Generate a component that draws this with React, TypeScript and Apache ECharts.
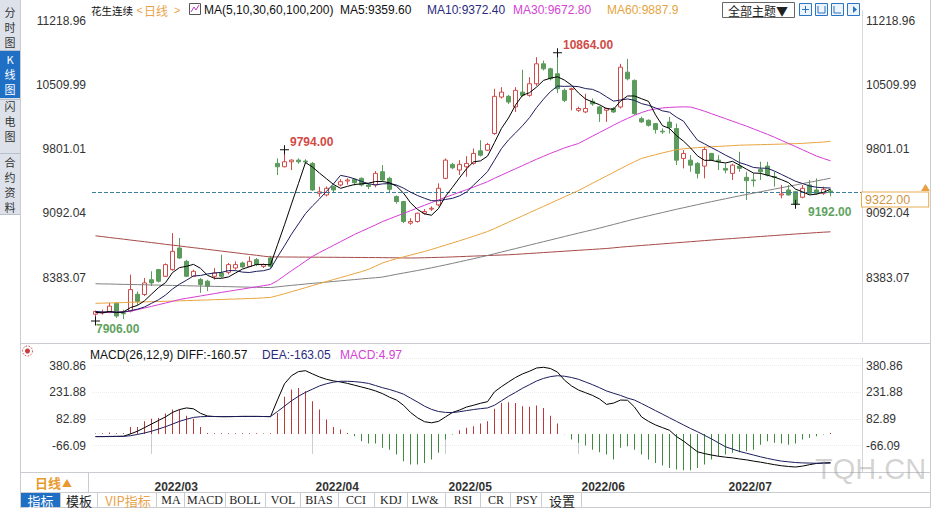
import { useEffect, useRef } from 'react';
import * as echarts from 'echarts';

// ---------- categories (trading days) ----------
const febDays = [17, 18, 21, 22, 23, 24, 25, 28];
const marDays = [1, 2, 3, 4, 7, 8, 9, 10, 11, 14, 15, 16, 17, 18, 21, 22, 23, 24, 25, 28, 29, 30, 31];
const aprDays = [1, 6, 7, 8, 11, 12, 13, 14, 15, 18, 19, 20, 21, 22, 25, 26, 27, 28, 29];
const mayDays = [5, 6, 9, 10, 11, 12, 13, 16, 17, 18, 19, 20, 23, 24, 25, 26, 27, 30, 31];
const junDays = [1, 2, 6, 7, 8, 9, 10, 13, 14, 15, 16, 17, 20, 21, 22, 23, 24, 27, 28, 29, 30];
const julDays = [1, 4, 5, 6, 7, 8, 11, 12, 13, 14, 15, 18, 19, 20, 21, 22];
const tradingMonths: [number, number[]][] = [[2, febDays], [3, marDays], [4, aprDays], [5, mayDays], [6, junDays], [7, julDays]];
const dates: string[] = [];
tradingMonths.forEach(([m, days]) => days.forEach((d) => dates.push(`2022/${String(m).padStart(2, '0')}/${String(d).padStart(2, '0')}`)));
const rightPadSlots = ['pad1', 'pad2', 'pad3', 'pad4'];

// ---------- OHLC ----------
const opens = [
  7980, 7995, 8003, 8100, 7990, 8014, 8200, 8197, 8360, 8472,
  8398, 8472, 8710, 8563, 8398, 8362, 8344, 8398, 8435, 8442,
  8490, 8545, 8508, 8582, 8508, 8600, 9644, 9607, 9662, 9680,
  9670, 9644, 9314, 9296, 9387, 9406, 9450, 9468, 9479, 9406,
  9406, 9552, 9479, 9278, 9223, 8985, 9003, 9094, 9140, 9186,
  9479, 9633, 9571, 9607, 9644, 9783, 9790, 9974, 10376, 10384,
  10267, 10431, 10395, 10523, 10743, 10688, 10633, 10450, 10460, 10230,
  10212, 10330, 10267, 10230, 10250, 10267, 10651, 10560, 10138, 10120,
  10083, 10000, 10100, 10028, 9699, 9680, 9644, 9614, 9754, 9680,
  9589, 9534, 9614, 9490, 9461, 9578, 9614, 9497, 9296, 9351,
  9332, 9270, 9406, 9351, 9314, 9340,
];
const closes = [
  8010, 8000, 8069, 7960, 7985, 8252, 8120, 8325, 8325, 8344,
  8527, 8673, 8600, 8398, 8453, 8307, 8289, 8435, 8398, 8527,
  8527, 8501, 8563, 8527, 8527, 8508, 9607, 9662, 9680, 9662,
  9660, 9351, 9330, 9369, 9351, 9442, 9461, 9431, 9406, 9390,
  9534, 9461, 9358, 9223, 9003, 9003, 9094, 9113, 9149, 9369,
  9680, 9596, 9633, 9644, 9754, 9735, 9853, 10384, 10431, 10321,
  10450, 10395, 10523, 10743, 10688, 10578, 10468, 10340, 10468, 10250,
  10250, 10300, 10193, 10250, 10212, 10706, 10578, 10193, 10102, 10065,
  10017, 9992, 10040, 9680, 9754, 9625, 9534, 9798, 9680, 9662,
  9570, 9625, 9589, 9453, 9453, 9552, 9516, 9490, 9307, 9296,
  9192, 9369, 9314, 9314, 9358, 9322,
];
const lows = [
  7906, 7975, 7990, 7940, 7925, 8000, 8080, 8180, 8290, 8330,
  8390, 8460, 8590, 8390, 8390, 8215, 8234, 8362, 8380, 8420,
  8470, 8490, 8500, 8510, 8490, 8490, 9516, 9600, 9570, 9640,
  9640, 9340, 9277, 9280, 9320, 9390, 9410, 9400, 9390, 9360,
  9380, 9442, 9314, 9200, 8985, 8966, 8990, 9080, 9120, 9170,
  9470, 9580, 9516, 9497, 9630, 9720, 9780, 9960, 10360, 10300,
  10212, 10380, 10380, 10500, 10670, 10560, 10420, 10320, 10230, 10212,
  10200, 10280, 10102, 10102, 10200, 10250, 10560, 10180, 10090, 10050,
  9974, 9970, 9974, 9626, 9589, 9552, 9479, 9479, 9670, 9570,
  9534, 9461, 9552, 9241, 9387, 9461, 9500, 9387, 9259, 9290,
  9192, 9259, 9300, 9300, 9296, 9280,
];
const highs = [
  8020, 8030, 8105, 8110, 8030, 8417, 8230, 8380, 8453, 8480,
  8540, 8875, 8820, 8580, 8470, 8380, 8360, 8490, 8636, 8545,
  8563, 8560, 8618, 8600, 8540, 8625, 9699, 9794, 9690, 9700,
  9690, 9660, 9387, 9390, 9400, 9470, 9480, 9480, 9490, 9420,
  9560, 9626, 9497, 9290, 9230, 9039, 9100, 9140, 9170, 9424,
  9699, 9650, 9680, 9724, 9809, 9900, 9870, 10468, 10486, 10400,
  10486, 10677, 10596, 10816, 10779, 10700, 10864, 10470, 10480, 10270,
  10413, 10360, 10280, 10260, 10265, 10743, 10798, 10570, 10160, 10130,
  10090, 10030, 10157, 10083, 9790, 9735, 9660, 9827, 9760, 9735,
  9644, 9640, 9772, 9552, 9534, 9662, 9662, 9552, 9406, 9406,
  9340, 9406, 9461, 9479, 9387, 9360,
];
const markedHighs = [27, 66];
const markedLows = [0, 100];

// ---------- moving averages ----------
const ma5 = [
  8000, 7995, 8010, 8000, 8005, 8053, 8077, 8128, 8201, 8273,
  8328, 8439, 8494, 8508, 8530, 8486, 8409, 8376, 8376, 8391,
  8435, 8478, 8503, 8529, 8529, 8525, 8746, 8966, 9197, 9424,
  9654, 9603, 9537, 9474, 9412, 9369, 9391, 9411, 9418, 9426,
  9444, 9444, 9430, 9393, 9316, 9210, 9136, 9087, 9072, 9146,
  9281, 9381, 9485, 9584, 9661, 9672, 9724, 9874, 10031, 10145,
  10288, 10396, 10424, 10486, 10560, 10585, 10600, 10563, 10508, 10421,
  10355, 10322, 10292, 10249, 10241, 10332, 10388, 10388, 10358, 10329,
  10180, 10060, 10030, 9950, 9890, 9815, 9727, 9678, 9678, 9660,
  9649, 9667, 9625, 9580, 9538, 9534, 9513, 9493, 9464, 9432,
  9360, 9331, 9296, 9305, 9325, 9359.6,
];
const ma10 = [
  8010, 8005, 8005, 8000, 8000, 8020, 8035, 8060, 8100, 8139,
  8191, 8258, 8311, 8355, 8402, 8407, 8424, 8435, 8442, 8461,
  8461, 8444, 8440, 8453, 8460, 8480, 8612, 8735, 8863, 8977,
  9090, 9175, 9252, 9336, 9418, 9512, 9497, 9474, 9446, 9419,
  9407, 9418, 9421, 9406, 9371, 9327, 9290, 9259, 9233, 9231,
  9246, 9259, 9286, 9328, 9404, 9477, 9553, 9680, 9808, 9903,
  9980, 10060, 10149, 10259, 10353, 10437, 10498, 10494, 10497, 10491,
  10470, 10461, 10428, 10379, 10331, 10344, 10355, 10340, 10304, 10285,
  10256, 10224, 10209, 10154, 10110, 10002, 9900, 9860, 9818, 9778,
  9735, 9697, 9652, 9629, 9599, 9592, 9590, 9559, 9522, 9485,
  9447, 9422, 9395, 9381, 9375, 9372.4,
];
const ma30 = [
  7995, 7998, 8000, 8003, 8006, 8013, 8030, 8048, 8066, 8085,
  8103, 8122, 8142, 8155, 8168, 8181, 8194, 8207, 8220, 8233,
  8245, 8257, 8270, 8282, 8295, 8307, 8350, 8405, 8460, 8512,
  8565, 8618, 8660, 8700, 8740, 8780, 8820, 8860, 8895, 8930,
  8965, 9002, 9032, 9062, 9092, 9122, 9152, 9182, 9212, 9241,
  9270, 9298, 9326, 9354, 9382, 9412, 9442, 9480, 9515, 9550,
  9585, 9620, 9655, 9690, 9722, 9755, 9785, 9815, 9840, 9864,
  9905, 9945, 9985, 10025, 10065, 10105, 10140, 10175, 10205, 10230,
  10245, 10256, 10262, 10266, 10268, 10266, 10245, 10220, 10192, 10165,
  10138, 10110, 10083, 10055, 10025, 9995, 9965, 9932, 9898, 9864,
  9830, 9795, 9760, 9725, 9698, 9672.8,
];
const ma60 = [
  8100, 8102, 8104, 8106, 8108, 8111, 8113, 8115, 8118, 8120,
  8122, 8125, 8127, 8130, 8132, 8135, 8137, 8140, 8142, 8145,
  8147, 8150, 8153, 8156, 8160, 8165, 8185, 8205, 8228, 8250,
  8273, 8296, 8318, 8340, 8362, 8384, 8406, 8428, 8450, 8475,
  8510, 8545, 8570, 8592, 8612, 8632, 8652, 8672, 8695, 8718,
  8742, 8766, 8790, 8815, 8840, 8866, 8892, 8925, 8960, 8995,
  9030, 9065, 9100, 9135, 9170, 9205, 9240, 9275, 9310, 9345,
  9385, 9425, 9465, 9505, 9545, 9585, 9625, 9662, 9699, 9720,
  9740, 9760, 9778, 9795, 9805, 9812, 9818, 9823, 9828, 9832,
  9836, 9840, 9845, 9847, 9849, 9851, 9853, 9855, 9857, 9860,
  9862, 9865, 9870, 9875, 9880, 9887.9,
];
const ma100 = [
  8316, 8314, 8313, 8311, 8309, 8308, 8306, 8304, 8302, 8301,
  8299, 8297, 8296, 8294, 8292, 8290, 8289, 8287, 8285, 8284,
  8282, 8280, 8278, 8277, 8275, 8274, 8282, 8290, 8298, 8305,
  8313, 8320, 8327, 8334, 8341, 8348, 8355, 8362, 8369, 8376,
  8382, 8390, 8405, 8420, 8434, 8448, 8462, 8477, 8492, 8508,
  8524, 8541, 8558, 8575, 8592, 8610, 8628, 8647, 8666, 8685,
  8704, 8723, 8742, 8761, 8780, 8799, 8818, 8837, 8856, 8875,
  8893, 8911, 8930, 8950, 8970, 8990, 9010, 9030, 9048, 9066,
  9084, 9102, 9120, 9138, 9155, 9172, 9189, 9206, 9222, 9238,
  9254, 9270, 9286, 9301, 9316, 9331, 9346, 9361, 9376, 9391,
  9406, 9421, 9436, 9451, 9466, 9480,
];
const ma200 = [
  8845, 8836, 8826, 8817, 8808, 8798, 8789, 8780, 8770, 8761,
  8751, 8742, 8733, 8723, 8714, 8705, 8695, 8686, 8676, 8667,
  8658, 8648, 8639, 8630, 8620, 8612, 8612, 8611, 8611, 8610,
  8610, 8609, 8609, 8608, 8608, 8607, 8607, 8606, 8606, 8605,
  8605, 8604, 8603, 8602, 8601, 8600, 8601, 8603, 8605, 8607,
  8609, 8612, 8615, 8618, 8621, 8624, 8627, 8630, 8633, 8636,
  8640, 8645, 8650, 8655, 8660, 8665, 8670, 8675, 8680, 8685,
  8690, 8695, 8700, 8705, 8712, 8720, 8726, 8732, 8738, 8744,
  8750, 8756, 8762, 8768, 8774, 8780, 8786, 8792, 8798, 8804,
  8810, 8815, 8821, 8826, 8832, 8837, 8843, 8848, 8854, 8859,
  8865, 8870, 8875, 8880, 8885, 8889,
];

// ---------- MACD ----------
const diff = [
  -15, -15, -14, -14, -13, 0, 15, 35, 55, 75,
  95, 120, 136, 145, 140, 115, 100, 97, 96, 96,
  97, 98, 98, 98, 97, 96, 190, 280, 325, 348,
  353, 335, 318, 305, 296, 290, 282, 272, 262, 252,
  240, 225, 205, 189, 160, 120, 90, 68, 62, 70,
  95, 120, 133, 150, 160, 171, 180, 235, 264, 290,
  315, 335, 350, 368, 372, 365, 345, 300, 268, 245,
  230, 215, 195, 165, 172, 189, 188, 150, 95, 70,
  50, 35, 20, -15, -40, -70, -100, -110, -118, -125,
  -130, -134, -140, -145, -152, -158, -165, -172, -178, -182,
  -185, -180, -172, -165, -162, -160.57,
];
const dea = [
  -15, -15, -15, -14, -14, -10, -3, 5, 15, 27,
  40, 55, 70, 82, 92, 96, 97, 97, 97, 97,
  97, 97, 97, 97, 97, 97, 125, 155, 185, 210,
  232, 250, 268, 280, 289, 294, 294, 292, 288, 282,
  270, 258, 248, 236, 222, 200, 178, 155, 137, 125,
  120, 119, 124, 130, 136, 141, 145, 160, 185, 210,
  232, 255, 275, 295, 310, 320, 325, 322, 315, 305,
  290, 275, 258, 240, 227, 215, 200, 189, 170, 150,
  130, 110, 90, 70, 50, 30, 12, -8, -28, -50,
  -72, -85, -98, -108, -118, -128, -137, -145, -152, -156,
  -160, -162, -163, -164, -164, -163.05,
];
const macd = [
  2, 4, 8, 4, 3, 39, 39, 71, 84, 89,
  114, 136, 136, 102, 84, 39, 5, 4, 4, 3,
  4, 3, 3, 3, 2, 3, 117, 207, 248, 257,
  238, 182, 136, 80, 39, 24, 5, -13, -41, -54,
  -54, -78, -88, -115, -153, -171, -171, -162, -143, -106,
  -32, -4, 20, 34, 43, 58, 71, 140, 173, 177,
  173, 155, 151, 158, 145, 102, 58, -2, -32, -50,
  -65, -88, -102, -115, -143, -78, -69, -88, -115, -143,
  -162, -177, -190, -199, -203, -203, -190, -171, -143, -125,
  -115, -106, -102, -97, -88, -60, -41, -50, -54, -60,
  -54, -32, -22, -13, -4, 4.97,
];

// ---------- axis tick labels ----------
const priceTicks = ['11218.96', '10509.99', '9801.01', '9092.04', '8383.07'];
const macdTicks = ['380.86', '231.88', '82.89', '-66.09'];
const tabItems = ['模板', 'VIP指标', 'MA', 'MACD', 'BOLL', 'VOL', 'BIAS', 'CCI', 'KDJ', 'LW&', 'RSI', 'CR', 'PSY', '设置'];
const sideTabs = [
  { chars: ['分', '时', '图'], ys: [12, 27, 42], active: false },
  { chars: ['K', '线', '图'], ys: [59, 74, 89], active: true },
  { chars: ['闪', '电', '图'], ys: [106, 121, 136], active: false },
  { chars: ['合', '约', '资', '料'], ys: [162, 177, 192, 207], active: false },
];

const NUM = '"Liberation Sans", Arial, sans-serif';
const CJK = '"Noto Sans CJK SC", "Liberation Sans", sans-serif';
const SERIF = '"Liberation Serif", "Noto Sans CJK SC", serif';

const pickLabel = (list: string[]) => (v: number) => {
  const hit = list.find((t) => Math.abs(parseFloat(t) - v) < 0.5);
  return hit === undefined ? '' : hit;
};

function txt(text: string, x: number, y: number, fill: string, size = 12, family = NUM, align = 'left', weight: any = 'normal', extra: any = {}) {
  return {
    type: 'text', silent: true, z: 100,
    style: { text, x, y, fill, fontSize: size, fontFamily: family, fontWeight: weight, align, textAlign: align, verticalAlign: 'middle', textVerticalAlign: 'middle', ...extra },
  };
}
function hline(x1: number, x2: number, y: number, stroke = '#c9ccd1') {
  return { type: 'line', silent: true, z: 90, shape: { x1, y1: y, x2, y2: y }, style: { stroke, lineWidth: 1 } };
}
function vline(x: number, y1: number, y2: number, stroke = '#c9ccd1') {
  return { type: 'line', silent: true, z: 90, shape: { x1: x, y1, x2: x, y2 }, style: { stroke, lineWidth: 1 } };
}

export default function App() {
  const ref = useRef<HTMLDivElement>(null);

  useEffect(() => {
    if (!ref.current) return;
    const chart = echarts.init(ref.current, undefined, { renderer: 'svg' });
    const n = dates.length;
    const last = n - 1;
    const cats = dates.concat(rightPadSlots);
    const monthStarts = new Set<number>();
    for (let i = 1; i < n; i++) if (dates[i].slice(5, 7) !== dates[i - 1].slice(5, 7)) monthStarts.add(i);
    const candleData = dates.map((_, i) => [opens[i], closes[i], lows[i], highs[i]]);

    const crossSymbol = 'path://M4,0h1v9h-1zM0,4h9v1h-9z';
    const markData: any[] = [];
    markedHighs.forEach((i) => markData.push({
      coord: [i, highs[i]], value: highs[i],
      label: { show: true, position: 'right', distance: 1, offset: [0, -8], formatter: highs[i].toFixed(2), color: '#d24a46', fontSize: 12, fontWeight: 'bold', fontFamily: NUM },
    }));
    markedLows.forEach((i) => markData.push({
      coord: [i, lows[i]], value: lows[i],
      label: { show: true, position: 'right', distance: 1, offset: [i === 0 ? -5 : 7, 8], formatter: lows[i].toFixed(2), color: '#5ea35e', fontSize: 12, fontWeight: 'bold', fontFamily: NUM },
    }));

    const maLine = (name: string, data: number[], color: string) => ({
      name, type: 'line', xAxisIndex: 0, yAxisIndex: 0, data, showSymbol: false, symbol: 'none',
      lineStyle: { color, width: 1 }, silent: true, z: 5,
    });

    const axisLab = { color: '#333', fontSize: 12, fontFamily: NUM };

    const graphic: any[] = [
      // left sidebar
      { type: 'rect', silent: true, z: 80, shape: { x: 0, y: 0, width: 20, height: 215 }, style: { fill: '#dde2ea' } },
      { type: 'rect', silent: true, z: 81, shape: { x: 0, y: 51, width: 20, height: 47 }, style: { fill: '#1f6fc4' } },
      hline(0, 20, 50.5, '#b8c0cc'), hline(0, 20, 99.5, '#b8c0cc'), hline(0, 20, 153.5, '#b8c0cc'), hline(0, 20, 214.5, '#b8c0cc'),
      vline(20.5, 0, 508),
      vline(930.5, 0, 508),
      // panel separators
      hline(20, 931, 343.5), hline(20, 931, 472.5), hline(20, 931, 492.5), hline(20, 931, 507.5),
      vline(88.5, 472, 492),
      // top header
      txt('花生连续', 91, 10, '#111', 10.5, CJK),
      txt('<', 136.5, 10, '#e8a34a', 11, NUM),
      txt('日线', 144, 10, '#e8a34a', 12, CJK),
      txt('>', 174, 10, '#e8a34a', 11, NUM),
      { type: 'rect', silent: true, z: 100, shape: { x: 189.5, y: 3.5, width: 11, height: 11 }, style: { fill: '#fff', stroke: '#555', lineWidth: 1 } },
      { type: 'polyline', silent: true, z: 101, shape: { points: [[191, 12], [194, 7], [196, 10], [199, 5]] }, style: { stroke: '#c03cc0', fill: 'none', lineWidth: 1 } },
      txt('MA(5,10,30,60,100,200)', 204, 10, '#111'),
      txt(`MA5:${ma5[last].toFixed(2)}`, 340, 10, '#111'),
      txt(`MA10:${ma10[last].toFixed(2)}`, 427, 10, '#2b2b7d'),
      txt(`MA30:${ma30[last].toFixed(2)}`, 513, 10, '#d444d4'),
      txt(`MA60:${ma60[last].toFixed(1)}`, 607, 10, '#e6a440'),
      { type: 'rect', silent: true, z: 100, shape: { x: 722.5, y: 2.5, width: 72, height: 15 }, style: { fill: '#fff', stroke: '#666', lineWidth: 1 } },
      txt('全部主题▼', 758, 10, '#222', 12, CJK, 'center'),
      ...[799, 815, 831, 847].map((x) => ({ type: 'rect', silent: true, z: 100, shape: { x: x + 0.5, y: 3.5, width: 12, height: 12 }, style: { fill: '#eef4fb', stroke: '#2a74c4', lineWidth: 1 } })),
      { type: 'polyline', silent: true, z: 101, shape: { points: [[805.5, 6], [805.5, 13]] }, style: { stroke: '#2a74c4', lineWidth: 1 } },
      { type: 'polyline', silent: true, z: 101, shape: { points: [[802, 9.5], [809, 9.5]] }, style: { stroke: '#2a74c4', lineWidth: 1 } },
      { type: 'polyline', silent: true, z: 101, shape: { points: [[818, 6], [818, 13], [825, 13], [825, 6]] }, style: { stroke: '#2a74c4', fill: 'none', lineWidth: 1 } },
      { type: 'polyline', silent: true, z: 101, shape: { points: [[834, 6], [834, 13], [841, 13]] }, style: { stroke: '#2a74c4', fill: 'none', lineWidth: 1 } },
      { type: 'polygon', silent: true, z: 101, shape: { points: [[853, 6], [857, 9.5], [853, 13]] }, style: { fill: '#2a74c4' } },
      // MACD header
      { type: 'circle', silent: true, z: 100, shape: { cx: 27.5, cy: 351, r: 2.5 }, style: { fill: '#c83c3c' } },
      { type: 'circle', silent: true, z: 100, shape: { cx: 27.5, cy: 351, r: 5 }, style: { fill: 'none', stroke: '#c83c3c', lineWidth: 1, lineDash: [1.5, 1.5] } },
      txt(`MACD(26,12,9) DIFF:${diff[last].toFixed(2)}`, 90, 355, '#111'),
      txt(`DEA:${dea[last].toFixed(2)}`, 262, 355, '#2b2b7d'),
      txt(`MACD:${macd[last].toFixed(2)}`, 340, 355, '#d444d4'),
      // date row left cell
      txt('日线', 35, 482, '#e89a2e', 13, CJK, 'left', 'bold'),
      txt('▲', 62, 482, '#e89a2e', 10, CJK),
      // tab row
      { type: 'rect', silent: true, z: 85, shape: { x: 21, y: 493, width: 39, height: 14 }, style: { fill: '#1f6fc4' } },
      txt('指标', 40.5, 500, '#fff', 13, CJK, 'center'),
      // watermark
      txt('TQH.CN', 815, 469, 'rgba(140,140,140,0.38)', 29, NUM),
      // latest price flag icon
      { type: 'polygon', silent: true, z: 100, shape: { points: [[921, 191], [925.5, 184], [930, 191]] }, style: { fill: '#e8a040' } },
    ];
    sideTabs.forEach((tab) => tab.chars.forEach((c, k) => graphic.push(txt(c, 10, tab.ys[k], tab.active ? '#ffffff' : '#333', 11, CJK, 'center'))));
    const tabX = [79, 128, 171, 205, 245, 283, 319, 356, 391, 425, 463, 496, 527, 562];
    const tabSep = [60, 97, 156, 184, 225, 265, 300, 338, 374, 407, 445, 480, 510, 541, 581];
    tabItems.forEach((t, k) => {
      const isCJK = /[\u4e00-\u9fff]/.test(t);
      graphic.push(txt(t, tabX[k], 500, t === 'VIP指标' ? '#e8a34a' : '#222', isCJK ? 13 : 12, isCJK ? CJK : SERIF, 'center'));
    });
    tabSep.forEach((x) => graphic.push(vline(x + 0.5, 493, 507)));

    const option: any = {
      animation: false,
      backgroundColor: '#ffffff',
      grid: [
        { left: 92, top: 10, width: 770, height: 331.9 },
        { left: 92, top: 358, width: 770, height: 114.4 },
      ],
      xAxis: [
        { type: 'category', gridIndex: 0, data: cats, boundaryGap: true, axisLine: { show: false }, axisTick: { show: false }, axisLabel: { show: false }, splitLine: { show: false } },
        {
          type: 'category', gridIndex: 1, data: cats, boundaryGap: true,
          axisLine: { show: false },
          axisTick: { show: true, alignWithLabel: true, length: 20, interval: (i: number) => monthStarts.has(i), lineStyle: { color: '#c9ccd1' } },
          axisLabel: { show: true, interval: (i: number) => monthStarts.has(i), formatter: (v: string) => v.slice(0, 7), align: 'left', margin: 9, color: '#333', fontSize: 12, fontWeight: 'bold', fontFamily: NUM, padding: [0, 0, 0, 3] },
          splitLine: { show: false },
        },
      ],
      yAxis: [
        { type: 'value', gridIndex: 0, position: 'left', min: 7674.1, max: 11337, interval: 708.97, axisLine: { show: false }, axisTick: { show: false }, splitLine: { show: false }, axisLabel: { ...axisLab, margin: 6, formatter: pickLabel(priceTicks) } },
        { type: 'value', gridIndex: 0, position: 'right', min: 7674.1, max: 11337, interval: 708.97, axisLine: { show: true, lineStyle: { color: '#d0d0d0', type: 'dotted' } }, axisTick: { show: false }, splitLine: { show: false }, axisLabel: { ...axisLab, margin: 4, formatter: pickLabel(priceTicks) } },
        { type: 'value', gridIndex: 1, position: 'left', min: -215.08, max: 423.9, interval: 148.99, axisLine: { show: false }, axisTick: { show: false }, splitLine: { show: true, lineStyle: { color: '#ececec', type: 'dotted' } }, axisLabel: { ...axisLab, margin: 6, formatter: pickLabel(macdTicks) } },
        { type: 'value', gridIndex: 1, position: 'right', min: -215.08, max: 423.9, interval: 148.99, axisLine: { show: true, lineStyle: { color: '#d0d0d0', type: 'dotted' } }, axisTick: { show: false }, splitLine: { show: false }, axisLabel: { ...axisLab, margin: 4, formatter: pickLabel(macdTicks) } },
      ],
      series: [
        {
          name: 'K', type: 'candlestick', xAxisIndex: 0, yAxisIndex: 0, data: candleData, barWidth: 5,
          itemStyle: { color: '#ffffff', color0: '#5b9b5b', borderColor: '#cf4b48', borderColor0: '#5b9b5b', borderWidth: 1 },
          silent: true, z: 3,
          markLine: {
            silent: true, symbol: ['none', 'none'], animation: false,
            data: [{ yAxis: closes[last] }],
            lineStyle: { color: '#3d7f9c', type: 'dashed', width: 1 },
            label: { show: true, position: 'end', distance: 0, formatter: (p: any) => Number(p.value).toFixed(2), color: '#cf953f', fontSize: 12.5, lineHeight: 13, fontFamily: NUM, backgroundColor: '#fff', borderColor: '#e8ac50', borderWidth: 1, padding: [1, 18, 0, 3], verticalAlign: 'top' },
          },
          markPoint: {
            silent: true, symbol: crossSymbol, symbolSize: [9, 9], itemStyle: { color: '#111' }, animation: false,
            data: markData,
          },
        },
        maLine('MA200', ma200, '#a54a48'),
        maLine('MA100', ma100, '#808080'),
        maLine('MA60', ma60, '#e9a43e'),
        maLine('MA30', ma30, '#d53cd5'),
        maLine('MA10', ma10, '#1c1c5c'),
        maLine('MA5', ma5, '#000000'),
        {
          name: 'MACD', type: 'bar', xAxisIndex: 1, yAxisIndex: 2, data: macd, barWidth: 1, silent: true,
          itemStyle: { color: (p: any) => (p.value >= 0 ? '#b83a3a' : '#3f8a3f') },
        },
        { name: 'DIFF', type: 'line', xAxisIndex: 1, yAxisIndex: 2, data: diff, showSymbol: false, symbol: 'none', lineStyle: { color: '#000', width: 1 }, silent: true },
        { name: 'DEA', type: 'line', xAxisIndex: 1, yAxisIndex: 2, data: dea, showSymbol: false, symbol: 'none', lineStyle: { color: '#1c1c5c', width: 1 }, silent: true },
      ],
      graphic,
    };
    chart.setOption(option);
    return () => chart.dispose();
  }, []);

  return <div ref={ref} style={{ position: 'absolute', left: 0, top: 0, width: 932, height: 508, background: '#fff' }} />;
}
